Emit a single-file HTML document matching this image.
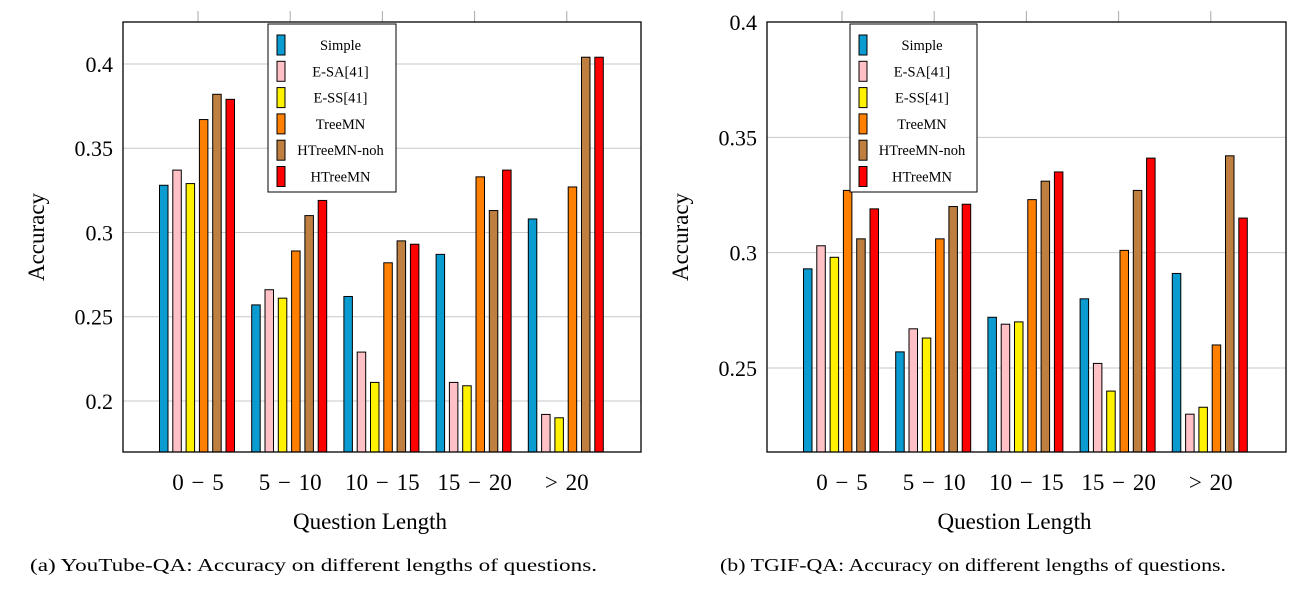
<!DOCTYPE html>
<html><head><meta charset="utf-8"><style>
body{margin:0;background:#fff;width:1302px;height:586px;overflow:hidden}
svg text{font-family:"Liberation Serif",serif;fill:#000}
</style></head><body>
<svg id="s" width="1302" height="586"></svg>
<script>
const categories=["0 − 5","5 − 10","10 − 15","15 − 20","> 20"];
const seriesNames=["Simple","E-SA[41]","E-SS[41]","TreeMN","HTreeMN-noh","HTreeMN"];
const colors=["#0a9bd1","#ffc0c6","#fff200","#ff8000","#bf7f40","#ff0000"];
const ytQA=[[0.328,0.257,0.262,0.287,0.308],[0.337,0.266,0.229,0.211,0.192],[0.329,0.261,0.211,0.209,0.190],[0.367,0.289,0.282,0.333,0.327],[0.382,0.310,0.295,0.313,0.404],[0.379,0.319,0.293,0.337,0.404]];
const tgifQA=[[0.293,0.257,0.272,0.280,0.291],[0.303,0.267,0.269,0.252,0.230],[0.298,0.263,0.270,0.240,0.233],[0.327,0.306,0.323,0.301,0.260],[0.306,0.320,0.331,0.327,0.342],[0.319,0.321,0.335,0.341,0.315]];
const ticksA=[0.2,0.25,0.3,0.35,0.4];
const ticksB=[0.25,0.3,0.35,0.4];
const NS="http://www.w3.org/2000/svg";
const svg=document.getElementById('s');
function mk(t,a,p){const e=document.createElementNS(NS,t);for(const k in a)e.setAttribute(k,a[k]);(p||svg).appendChild(e);return e;}
function chart(x0,x1,top,bot,ymin,ymax,data,ticks,legX,legW,caption,capX,capW,name){
  const g=mk('g',{});
  
  
  const y=v=>bot-(v-ymin)/(ymax-ymin)*(bot-top);
  const gx=i=>x0+75+i*92.2;
  ticks.forEach(t=>{
    const l=mk('line',{x1:x0,x2:x1,y1:y(t),y2:y(t),stroke:'#c8c8c8','stroke-width':1},g);
    
    
    const tx=mk('text',{x:x0-10,y:y(t)+8,'text-anchor':'end','font-size':22},g);
    tx.textContent=String(t);
    
    
  });
  categories.forEach((c,i)=>{
    mk('line',{x1:gx(i),x2:gx(i),y1:top-11,y2:top,stroke:'#aaa'},g);
    const tx=mk('text',{x:gx(i),y:490,'text-anchor':'middle','font-size':23,'word-spacing':'2px'},g);
    tx.textContent=c;
    
    
    data.forEach((s,j)=>{
      const bx=gx(i)-38.5+j*13.3;
      const r=mk('rect',{x:bx,y:y(s[i]),width:8.5,height:bot-y(s[i]),fill:colors[j],stroke:'#000','stroke-width':1},g);
      
      
    });
  });
  const fr=mk('rect',{x:x0,y:top,width:x1-x0,height:bot-top,fill:'none',stroke:'#000','stroke-width':1.3},g);
  
  
  const lg=mk('g',{},g);
  
  
  mk('rect',{x:legX,y:24,width:legW,height:168,fill:'#fff',stroke:'#000','stroke-width':1},lg);
  seriesNames.forEach((n,j)=>{
    const cy=45+j*26.3;
    mk('rect',{x:legX+9,y:cy-10,width:8,height:20,fill:colors[j],stroke:'#000'},lg);
    const tx=mk('text',{x:legX+(legW+17)/2,y:cy+5,'text-anchor':'middle','font-size':14.5},lg);
    tx.textContent=n;
    
    
  });
  const xt=mk('text',{x:(x0+x1)/2-12,y:529,'text-anchor':'middle','font-size':23},g);
  xt.textContent='Question Length';
  
  
  const yt=mk('text',{x:0,y:0,'text-anchor':'middle','font-size':23,transform:`translate(${x0-79},${(top+bot)/2}) rotate(-90)`},g);
  yt.textContent='Accuracy';
  
  
  const cp=mk('text',{x:capX,y:571,'font-size':18,textLength:capW,lengthAdjust:'spacingAndGlyphs'},g);
  cp.textContent=caption;
  
  
}
chart(123,641,22,452,0.1697,0.4249,ytQA,ticksA,268,128,'(a) YouTube-QA: Accuracy on different lengths of questions.',30,567,'chart-youtube-qa');
chart(767,1286,22,452,0.2136,0.4,tgifQA,ticksB,850,127,'(b) TGIF-QA: Accuracy on different lengths of questions.',720,506,'chart-tgif-qa');
</script>
</body></html>
